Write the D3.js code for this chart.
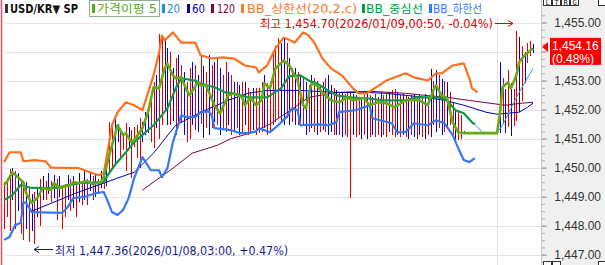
<!DOCTYPE html>
<html>
<head>
<meta charset="utf-8">
<script src="https://cdn.jsdelivr.net/npm/d3@7"></script>
<style>
  body { margin: 0; background: #fff; }
  svg { display: block; }
</style>
</head>
<body>
<script>
// ---- data (USD/KRW tick bars) ----
const barHigh = [
  1449.5,1449.6,1449.95,1450.0,1449.9,1449.8,1449.6,1449.5,1449.5,1449.3,
  1449.1,1449.15,1449.3,1449.6,1449.7,1449.55,1449.8,1449.55,1449.75,1449.6,
  1449.7,1449.3,1449.45,1449.75,1449.6,1449.7,1449.5,1449.8,1449.5,1449.9,
  1449.6,1449.85,1449.7,1449.75,1449.6,1449.9,1449.7,1450.0,1451.56,1451.46,
  1451.7,1451.5,1451.3,1451.2,1451.55,1451.4,1451.3,1451.4,1451.46,1451.7,
  1451.56,1451.91,1452.0,1452.59,1452.94,1453.18,1454.62,1454.45,1454.45,1454.11,
  1453.97,1453.42,1453.76,1453.87,1453.52,1453.28,1452.94,1453.42,1453.63,1453.52,
  1453.18,1453.87,1453.5,1453.28,1453.87,1453.52,1453.63,1453.76,1453.42,1453.18,
  1453.63,1453.28,1453.18,1452.94,1452.94,1452.84,1452.94,1452.94,1452.73,1452.59,
  1452.73,1452.73,1452.73,1452.94,1453.18,1452.9,1452.84,1453.97,1454.2,1454.45,
  1454.3,1454.45,1454.3,1453.76,1453.42,1453.42,1453.28,1453.18,1453.08,1452.94,
  1452.84,1453.18,1453.08,1453.0,1452.84,1452.94,1453.08,1453.2,1452.84,1452.73,
  1452.66,1452.59,1452.59,1452.55,1452.59,1452.59,1452.55,1452.49,1452.45,1452.42,
  1452.49,1452.55,1452.49,1452.45,1452.52,1452.45,1452.59,1452.49,1452.55,1452.59,
  1452.66,1452.7,1452.59,1452.49,1452.55,1452.5,1452.42,1452.49,1452.55,1452.42,
  1452.49,1452.45,1452.55,1452.42,1453.41,1453.0,1453.35,1453.18,1453.06,1453.0,
  1452.95,1452.6,1452.26,1452.03,1451.92,1451.8,1451.25,1451.19,1451.19,1451.19,
  1451.19,1451.19,1451.19,1451.19,1451.19,1451.19,1451.19,1451.19,1451.19,1453.63,
  1453.1,1452.7,1453.35,1452.9,1452.7,1454.7,1454.5,1454.2,1454.0,1454.3,
  1454.35,1454.25
];
const barLow = [
  1447.9,1448.3,1447.8,1448.9,1447.9,1448.5,1447.7,1447.5,1447.9,1447.45,
  1447.8,1447.36,1448.3,1448.0,1448.9,1448.9,1449.1,1448.8,1448.95,1448.2,
  1449.0,1447.9,1448.3,1448.9,1448.5,1448.6,1448.3,1448.8,1448.7,1448.9,
  1448.7,1449.2,1448.9,1449.0,1449.1,1449.3,1449.25,1449.35,1449.84,1449.98,
  1450.09,1450.9,1450.3,1450.6,1449.9,1450.7,1449.65,1450.7,1450.33,1449.98,
  1450.88,1451.12,1451.2,1450.88,1450.67,1451.36,1451.0,1451.46,1451.91,1451.46,
  1451.46,1451.6,1451.12,1451.46,1451.56,1451.12,1450.88,1451.0,1451.46,1451.3,
  1451.22,1451.5,1451.01,1451.36,1451.12,1451.36,1451.56,1451.46,1451.12,1451.36,
  1451.22,1451.46,1451.12,1451.22,1451.36,1451.12,1451.22,1451.46,1451.12,1451.22,
  1451.3,1451.12,1451.2,1451.22,1451.36,1451.12,1451.22,1451.46,1451.56,1451.7,
  1451.56,1451.46,1451.7,1451.46,1451.56,1451.46,1451.46,1451.56,1451.46,1451.12,
  1451.22,1451.36,1451.22,1451.12,1451.22,1451.3,1451.22,1451.12,1451.22,1451.12,
  1451.12,1451.12,1451.05,1451.12,1451.05,1448.96,1451.12,1451.05,1451.12,1451.0,
  1451.12,1451.0,1451.05,1451.12,1451.05,1451.12,1451.05,1451.12,1451.05,1451.22,
  1451.12,1451.05,1451.12,1451.05,1451.12,1451.05,1451.0,1451.12,1451.05,1451.0,
  1451.12,1451.05,1451.0,1451.12,1451.05,1451.46,1451.23,1451.35,1451.12,1451.23,
  1451.35,1451.46,1451.12,1451.0,1450.94,1451.0,1451.19,1451.19,1451.19,1451.19,
  1451.19,1451.19,1451.19,1451.19,1451.19,1451.19,1451.19,1451.19,1451.19,1451.19,
  1451.5,1451.2,1451.4,1451.1,1451.45,1451.6,1451.9,1452.3,1452.9,1453.6,
  1453.85,1453.95
];
// r = up bar (red), b = down bar (blue)
const barDir =
  "rrrbrbrrbr" + "brbrbrbrbr" + "brrbrbrbrb" + "rbrbrbrbrr" + "bbrrrbrrrr" +
  "bbbrrbrrbb" + "rbrbrbrrbr" + "brbrbrbrbr" + "rbrbrbrbrr" + "brrrbrrrrr" +
  "bbrbrbrbrb" + "rbrbrbrbbr" + "brbrrrbrrb" + "rbrbrrbrrb" + "rrbrbrbrbr" +
  "brbrbrbrbr" + "brrbrrbbbb" + "bbbbbbbbbb" + "rbrbrrbrbr" + "rb";

// [bar index, price]
const ma5 = [[0,1449.4],[1,1449.5],[3,1449.84],[5,1449.67],[7,1449.5],[8,1449.12],[10,1448.78],[12,1448.95],[14,1449.3],[17,1449.23],[18,1449.47],[20,1449.3],[24,1449.4],[25,1449.5],[27,1449.47],[30,1449.54],[32,1449.43],[35,1449.5],[36,1449.67],[38,1450.43],[41,1451.46],[43,1451.12],[44,1451.19],[46,1450.88],[47,1450.95],[50,1451.36],[52,1451.91],[54,1452.77],[56,1452.73],[58,1453.42],[59,1453.59],[61,1453.18],[62,1453.08],[64,1453.11],[66,1452.66],[67,1452.49],[70,1452.94],[71,1452.83],[73,1452.83],[76,1452.15],[78,1451.87],[81,1452.49],[83,1452.56],[86,1452.42],[87,1452.15],[89,1452.42],[91,1452.15],[93,1452.32],[94,1452.9],[96,1452.73],[98,1453.42],[101,1453.69],[103,1453.52],[106,1453.0],[108,1452.15],[109,1452.04],[111,1452.9],[113,1452.83],[115,1452.59],[118,1452.32],[121,1452.25],[124,1452.42],[126,1452.32],[130,1452.39],[132,1452.15],[135,1452.25],[138,1452.22],[141,1452.08],[145,1452.32],[150,1452.32],[153,1452.15],[155,1452.66],[156,1452.83],[158,1452.49],[160,1452.39],[162,1451.56],[164,1451.22],[166,1451.19],[178,1451.19],[179,1451.8],[180,1452.77],[182,1452.94],[183,1452.73],[185,1453.18],[186,1453.63],[187,1453.76],[188,1453.87],[191,1454.11]];
const ma20 = [[170,1451.49],[173,1451.19],[178,1451.19],[180,1451.46],[183,1452.04],[186,1452.59],[191,1453.42]];
const ma60 = [[10,1448.5],[27,1449.16],[37,1449.5],[41,1449.64],[47,1449.84],[54,1450.5],[62,1451.46],[71,1451.91],[81,1452.32],[88,1452.56],[95,1452.66],[107,1452.66],[120,1452.59],[131,1452.59],[138,1452.56],[145,1452.49],[152,1452.42],[159,1452.32],[166,1452.15],[174,1451.91],[178,1451.84],[186,1451.91],[189,1452.08],[191,1452.22]];
const ma120 = [[50,1449.23],[61,1449.98],[68,1450.5],[77,1450.77],[82,1451.0],[90,1451.22],[96,1451.5],[103,1451.95],[110,1452.42],[120,1452.59],[132,1452.63],[145,1452.56],[152,1452.49],[160,1452.42],[173,1452.25],[181,1452.15],[187,1452.22],[191,1452.25]];
const bbUpper = [[0,1450.19],[2,1450.53],[6,1450.53],[7,1450.22],[11,1450.26],[15,1450.22],[17,1450.0],[27,1449.98],[31,1449.84],[34,1449.74],[36,1449.81],[37,1450.33],[39,1451.46],[41,1451.91],[44,1452.25],[47,1452.15],[50,1451.98],[54,1453.18],[56,1453.97],[57,1454.55],[58,1454.38],[61,1454.66],[64,1454.31],[69,1454.31],[71,1453.87],[75,1453.76],[79,1453.8],[83,1453.76],[87,1453.52],[91,1453.45],[92,1453.28],[95,1453.52],[98,1454.11],[101,1454.48],[105,1454.31],[108,1454.66],[110,1454.55],[112,1454.31],[115,1453.76],[118,1453.42],[122,1453.18],[126,1452.73],[128,1452.56],[131,1452.56],[138,1453.0],[145,1453.25],[148,1453.11],[153,1453.0],[156,1453.25],[158,1453.25],[162,1453.52],[166,1453.59],[168,1453.08],[169,1452.73],[171,1452.59]];
const bbMiddle = [[0,1448.88],[3,1449.05],[6,1449.4],[10,1449.3],[19,1449.3],[23,1449.4],[28,1449.47],[36,1449.5],[37,1449.67],[40,1450.09],[44,1450.53],[47,1450.88],[54,1451.46],[59,1452.04],[62,1452.73],[64,1453.08],[69,1453.0],[71,1452.9],[76,1452.77],[80,1452.59],[83,1452.56],[88,1452.42],[95,1452.42],[100,1452.73],[103,1453.15],[107,1453.18],[110,1453.0],[113,1452.9],[117,1452.66],[120,1452.49],[125,1452.42],[131,1452.39],[137,1452.32],[145,1452.32],[149,1452.42],[157,1452.42],[160,1452.32],[163,1451.98],[166,1451.87],[169,1451.56],[170,1451.49]];
const bbLower = [[0,1447.51],[2,1447.61],[4,1448.02],[6,1448.09],[7,1448.81],[8,1448.78],[10,1448.47],[21,1448.44],[23,1448.64],[25,1448.95],[29,1448.99],[33,1449.12],[36,1449.16],[37,1448.95],[39,1448.47],[41,1448.37],[43,1448.54],[45,1448.95],[47,1449.64],[50,1450.36],[53,1449.91],[56,1449.91],[57,1449.67],[59,1449.98],[61,1450.88],[64,1451.8],[66,1451.74],[69,1451.74],[71,1451.91],[74,1451.94],[75,1451.8],[76,1451.36],[82,1451.29],[85,1451.19],[88,1451.19],[91,1451.25],[92,1451.36],[96,1451.22],[99,1451.46],[102,1451.74],[104,1452.04],[106,1451.98],[107,1451.46],[114,1451.49],[117,1451.46],[120,1451.56],[121,1451.91],[127,1451.98],[132,1452.15],[133,1451.7],[140,1451.53],[142,1451.22],[145,1451.22],[148,1451.53],[153,1451.46],[156,1451.63],[159,1451.53],[162,1451.12],[164,1450.67],[166,1450.26],[168,1450.19],[170,1450.33]];

const priceTicks = [1447, 1448, 1449, 1450, 1451, 1452, 1453, 1454, 1455];
const dayBreak = 178;
const lastPrice = 1454.16, lastChange = "(0.48%)";
const highLabel = "최고 1,454.70(2026/01/09,00:50, -0.04%)";
const lowLabel = "최저 1,447.36(2026/01/08,03:00, +0.47%)";

// ---- layout ----
const width = 605, height = 265;
const font = "'DejaVu Sans', 'Noto Sans CJK KR', sans-serif";
const numFont = "'Liberation Sans', sans-serif";

const svg = d3.select("body").append("svg")
    .attr("width", width)
    .attr("height", height)
    .attr("font-family", font);

const x = d3.scaleLinear().domain([0, barHigh.length - 1]).range([4, 533]);
const y = d3.scaleLinear().domain([1447, 1455]).range([254.7, 22.5]);

// grid
svg.append("g")
    .attr("stroke", "#e4e4e4")
    .attr("shape-rendering", "crispEdges")
  .selectAll("line")
  .data(priceTicks)
  .join("line")
    .attr("x1", 5).attr("x2", 541)
    .attr("y1", d => Math.round(y(d)) + 0.5)
    .attr("y2", d => Math.round(y(d)) + 0.5);

svg.append("line")
    .attr("stroke", "#e0e0e0")
    .attr("shape-rendering", "crispEdges")
    .attr("x1", Math.round(x(dayBreak)) + 0.5).attr("x2", Math.round(x(dayBreak)) + 0.5)
    .attr("y1", 17).attr("y2", height);

// left border
svg.append("line")
    .attr("stroke", "#e8506a")
    .attr("stroke-width", 1.5)
    .attr("x1", 1.5).attr("x2", 1.5)
    .attr("y1", 0).attr("y2", height);

// bars
svg.append("g")
    .attr("shape-rendering", "crispEdges")
  .selectAll("rect")
  .data(barHigh.map((h, i) => ({i, h, l: barLow[i], up: barDir[i] === "r"})))
  .join("rect")
    .attr("x", d => Math.round(x(d.i)))
    .attr("width", 1)
    .attr("y", d => Math.round(y(d.h)))
    .attr("height", d => Math.max(1, Math.round(y(d.l)) - Math.round(y(d.h))))
    .attr("fill", d => d.up ? "#e80000" : "#0000e0");

// indicator lines
const line = d3.line().x(d => x(d[0])).y(d => y(d[1]));
const series = [
  {data: ma120, color: "#800040", w: 1},
  {data: ma60, color: "#0000b8", w: 1},
  {data: ma20, color: "#3399ee", w: 1},
  {data: bbLower, color: "#3478f0", w: 2.2},
  {data: bbUpper, color: "#ff6f20", w: 2.2},
  {data: bbMiddle, color: "#12964a", w: 2.2},
  {data: ma5, color: "#66aa14", w: 2.6}
];
svg.append("g")
    .attr("fill", "none")
    .attr("stroke-linejoin", "round")
  .selectAll("path")
  .data(series)
  .join("path")
    .attr("stroke", d => d.color)
    .attr("stroke-width", d => d.w)
    .attr("d", d => line(d.data));

// high / low annotations
svg.append("text")
    .attr("x", 260).attr("y", 28)
    .attr("font-size", 11.5)
    .attr("fill", "#e00000")
    .attr("textLength", 233)
    .attr("lengthAdjust", "spacingAndGlyphs")
    .text(highLabel);
svg.append("path")
    .attr("fill", "none")
    .attr("stroke", "#e00000")
    .attr("d", "M495,23.5H513M508,20.5L513,23.5L508,26.5");

svg.append("path")
    .attr("fill", "none")
    .attr("stroke", "#1a1a8c")
    .attr("d", "M53,249.5H34M39,246.5L34,249.5L39,252.5");
svg.append("text")
    .attr("x", 55).attr("y", 255)
    .attr("font-size", 11.5)
    .attr("fill", "#1a1a8c")
    .attr("textLength", 233)
    .attr("lengthAdjust", "spacingAndGlyphs")
    .text(lowLabel);

// price axis panel
svg.append("rect")
    .attr("x", 541).attr("y", 0)
    .attr("width", width - 541).attr("height", height)
    .attr("fill", "#f0f0f0");
svg.append("line")
    .attr("stroke", "#c8c8c8")
    .attr("x1", 541.5).attr("x2", 541.5)
    .attr("y1", 0).attr("y2", height);

svg.append("g")
    .attr("transform", "translate(542,0)")
    .call(d3.axisRight(y)
      .tickValues(d3.range(1446.75, 1455.5, 0.25))
      .tickSize(3)
      .tickFormat(""))
    .call(g => g.select(".domain").remove())
    .call(g => g.selectAll("line").attr("stroke", "#aaa"));

svg.append("g")
    .attr("transform", "translate(542,0)")
    .call(d3.axisRight(y).tickValues(priceTicks).tickSize(5).tickFormat(""))
    .call(g => g.select(".domain").remove())
    .call(g => g.selectAll("line").attr("stroke", "#999"));

// last price tag position; labels hidden under it are not drawn
const py = y(lastPrice);
const tagTop = py - 9, tagBottom = py + 18;

svg.append("g")
    .attr("transform", "translate(601,0)")
    .call(d3.axisLeft(y)
      .tickValues(priceTicks.filter(p => y(p) < tagTop - 5 || y(p) > tagBottom + 5))
      .tickFormat(d3.format(",.2f"))
      .tickSize(0)
      .tickPadding(0))
    .call(g => g.select(".domain").remove())
    .call(g => g.selectAll("text")
      .attr("font-family", numFont)
      .attr("font-size", 12)
      .attr("fill", "#333"));

svg.append("path")
    .attr("fill", "#ff0000")
    .attr("d", `M542,${py}L548,${py - 5}L548,${py + 5}Z`);
svg.append("rect")
    .attr("x", 550).attr("y", tagTop)
    .attr("width", 51).attr("height", tagBottom - tagTop)
    .attr("fill", "#ff0000");
svg.append("text")
    .attr("x", 552).attr("y", py + 3)
    .attr("font-family", numFont)
    .attr("font-size", 12).attr("fill", "#fff")
    .text(d3.format(",.2f")(lastPrice));
svg.append("text")
    .attr("x", 552).attr("y", py + 16.5)
    .attr("font-family", numFont)
    .attr("font-size", 12).attr("fill", "#fff")
    .text(lastChange);

// small tool buttons on the axis panel
const btn = svg.append("g").attr("font-size", 7).attr("font-family", "'DejaVu Sans Mono', monospace");
["L", "T", "R", "G"].forEach((c, k) => {
  btn.append("rect").attr("x", 543.5 + k * 9).attr("y", -2.5).attr("width", 8).attr("height", 8)
      .attr("fill", "#fff").attr("stroke", "#333");
  btn.append("text").attr("x", 545.5 + k * 9).attr("y", 4.5).attr("fill", "#111").text(c);
});
btn.append("rect").attr("x", 598.5).attr("y", -2.5).attr("width", 8).attr("height", 8)
    .attr("fill", "#fff").attr("stroke", "#333");
[543.5, 552.5, 598.5].forEach(bx => {
  btn.append("rect").attr("x", bx).attr("y", 261.5).attr("width", 8).attr("height", 8)
      .attr("fill", "#fff").attr("stroke", "#333");
});

// header legend
const legend = [
  {t: "USD/KR▼ SP", x: 10, w: 68, c: "#111", m: "#333", mx: 5, bold: true},
  {t: "가격이평 5", x: 97, w: 60, c: "#5aa820", m: "#5aa820", mx: 92},
  {t: "20", x: 167, w: 13, c: "#1e8cdc", m: "#1e8cdc", mx: 162},
  {t: "60", x: 192, w: 13, c: "#0000c8", m: "#0000c8", mx: 187},
  {t: "120", x: 217, w: 18, c: "#800040", m: "#800040", mx: 211},
  {t: "BB_상한선(20,2,c)", x: 247, w: 110, c: "#ff7828", m: "#ff7828", mx: 241},
  {t: "BB_중심선", x: 366, w: 57, c: "#00a046", m: "#00a046", mx: 362},
  {t: "BB_하한선", x: 433, w: 49, c: "#3278ff", m: "#3278ff", mx: 429}
];
const lg = svg.append("g");
lg.append("rect")
    .attr("x", 89.5).attr("y", 0.5).attr("width", 70).attr("height", 16)
    .attr("fill", "#fff").attr("stroke", "#8fb08f");
legend.forEach(d => {
  lg.append("rect")
      .attr("x", d.mx).attr("y", 4).attr("width", 3).attr("height", 9)
      .attr("fill", d.m);
  lg.append("text")
      .attr("x", d.x).attr("y", 12.5)
      .attr("font-size", 11.5)
      .attr("font-weight", d.bold ? "bold" : null)
      .attr("fill", d.c)
      .attr("textLength", d.w)
      .attr("lengthAdjust", "spacingAndGlyphs")
      .text(d.t);
});
</script>
</body>
</html>
